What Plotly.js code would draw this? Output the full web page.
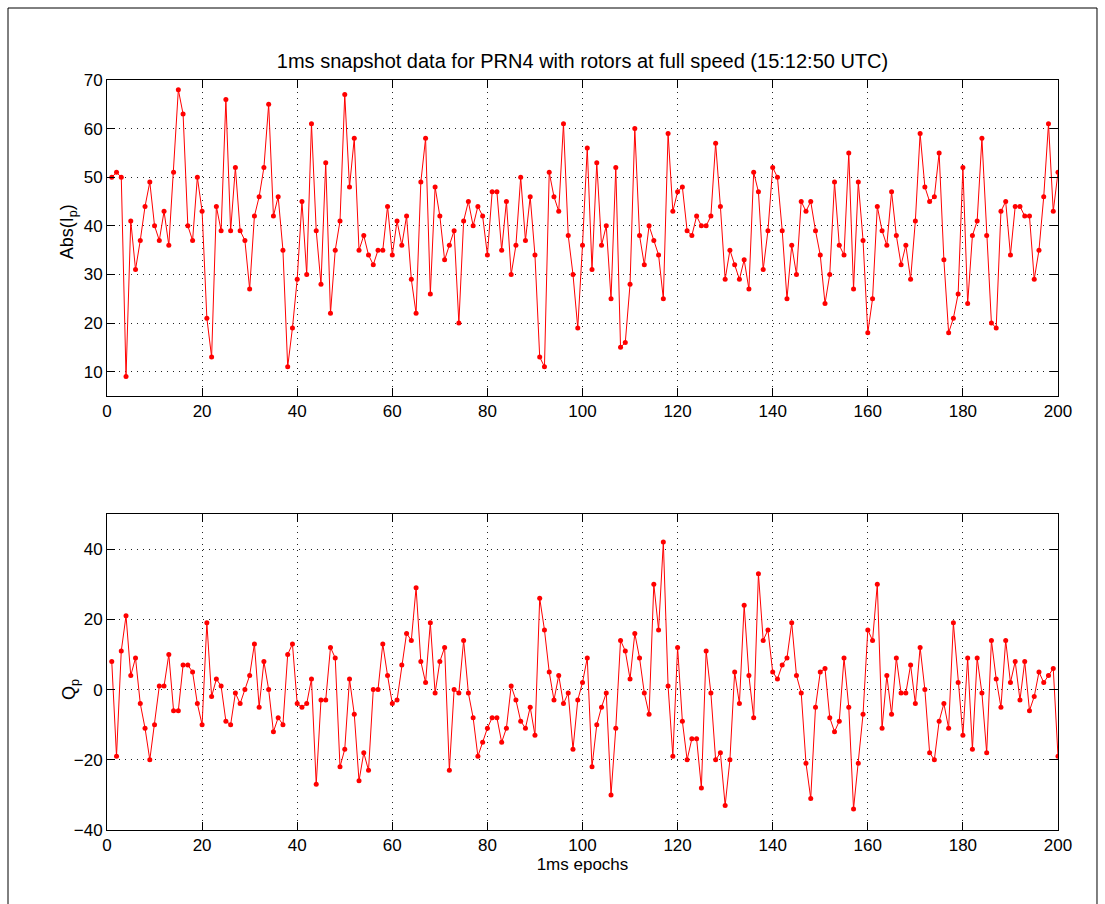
<!DOCTYPE html>
<html>
<head>
<meta charset="utf-8">
<script src="https://cdn.plot.ly/plotly-3.0.1.min.js"></script>
<style>
html,body{margin:0;padding:0;background:#fff;}
#chart{width:1105px;height:904px;}
</style>
</head>
<body>
<div id="chart"></div>
<script>
// Epoch indices 1..200
const epochs = Array.from({length: 200}, (_, i) => i + 1);

// Abs(I_p) values, epochs 1..200
const absIp = [
  50,51,50,9,41,31,37,44,49,40,
  37,43,36,51,68,63,40,37,50,43,
  21,13,44,39,66,39,52,39,37,27,
  42,46,52,65,42,46,35,11,19,29,
  45,30,61,39,28,53,22,35,41,67,
  48,58,35,38,34,32,35,35,44,34,
  41,36,42,29,22,49,58,26,48,42,
  33,36,39,20,41,45,40,44,42,34,
  47,47,35,45,30,36,50,37,46,34,
  13,11,51,46,43,61,38,30,19,36,
  56,31,53,36,40,25,52,15,16,28,
  60,38,32,40,37,34,25,59,43,47,
  48,39,38,42,40,40,42,57,44,29,
  35,32,29,33,27,51,47,31,39,52,
  50,39,25,36,30,45,43,45,39,34,
  24,30,49,36,34,55,27,49,37,18,
  25,44,39,36,47,38,32,36,29,41,
  59,48,45,46,55,33,18,21,26,52,
  24,38,41,58,38,20,19,43,45,34,
  44,44,42,42,29,35,46,61,43,51
];

// Q_p values, epochs 1..200
const qp = [
  8,-19,11,21,4,9,-4,-11,-20,-10,
  1,1,10,-6,-6,7,7,5,-4,-10,
  19,-2,3,1,-9,-10,-1,-4,0,4,
  13,-5,8,0,-12,-8,-10,10,13,-4,
  -5,-4,3,-27,-3,-3,12,9,-22,-17,
  3,-7,-26,-18,-23,0,0,13,4,-4,
  -3,7,16,14,29,8,2,19,-1,8,
  12,-23,0,-1,14,-1,-8,-19,-15,-11,
  -8,-8,-15,-11,1,-3,-9,-11,-5,-13,
  26,17,5,-3,4,-4,-1,-17,-3,2,
  9,-22,-10,-5,-1,-30,-11,14,11,3,
  16,9,-1,-7,30,17,42,1,-19,12,
  -9,-20,-14,-14,-28,11,-1,-20,-18,-33,
  -20,5,-4,24,4,-8,33,14,17,5,
  3,7,9,19,4,-1,-21,-31,-5,5,
  6,-8,-12,-9,9,-5,-34,-21,-7,17,
  14,30,-11,4,-7,9,-1,-1,7,-4,
  12,0,-18,-20,-9,-4,-11,19,2,-13,
  9,-17,9,-1,-18,14,3,-5,14,2,
  8,-3,8,-6,-2,5,2,4,6,-19
];

const xTicks = [0,20,40,60,80,100,120,140,160,180,200];
const topYTicks = [10,20,30,40,50,60,70];
const botYTicks = [-40,-20,0,20,40];

const FONT = 'Liberation Sans, Arial, Helvetica, sans-serif';
const red = '#ff0000';

const lineStyle = {color: red, width: 1};
const markerStyle = {color: red, size: 5};

const traces = [
  {x: epochs, y: absIp, type: 'scatter', mode: 'lines+markers',
   line: lineStyle, marker: markerStyle, xaxis: 'x', yaxis: 'y', showlegend: false},
  {x: epochs, y: qp, type: 'scatter', mode: 'lines+markers',
   line: lineStyle, marker: markerStyle, xaxis: 'x2', yaxis: 'y2', showlegend: false}
];

function axisBase() {
  return {
    showline: true, linecolor: '#000', linewidth: 1, mirror: 'ticks',
    ticks: 'inside', ticklen: 8, tickcolor: '#000', tickwidth: 1,
    showgrid: true, gridcolor: '#222', gridwidth: 1, griddash: '1px,5px',
    zeroline: false,
    tickfont: {family: FONT, size: 17, color: '#000'}
  };
}

const layout = {
  width: 1105, height: 904,
  paper_bgcolor: '#fff', plot_bgcolor: '#fff',
  margin: {l: 107, r: 47, t: 80, b: 74},
  font: {family: FONT, color: '#000'},
  title: {
    text: '1ms snapshot data for PRN4 with rotors at full speed (15:12:50 UTC)',
    font: {family: FONT, size: 20, color: '#000'},
    x: 0.5, xref: 'paper', xanchor: 'center',
    y: 1, yref: 'paper', yanchor: 'bottom', pad: {b: 12}
  },
  xaxis: Object.assign(axisBase(), {
    domain: [0, 1], anchor: 'y', range: [0, 200],
    tickmode: 'array', tickvals: xTicks
  }),
  yaxis: Object.assign(axisBase(), {
    domain: [0.5787, 1], anchor: 'x', range: [5, 70],
    tickmode: 'array', tickvals: topYTicks
  }),
  xaxis2: Object.assign(axisBase(), {
    domain: [0, 1], anchor: 'y2', range: [0, 200],
    tickmode: 'array', tickvals: xTicks,
    title: {text: '1ms epochs', font: {family: FONT, size: 17, color: '#000'}, standoff: 3}
  }),
  yaxis2: Object.assign(axisBase(), {
    domain: [0, 0.4213], anchor: 'x2', range: [-40, 50],
    tickmode: 'array', tickvals: botYTicks
  }),
  annotations: [
    {text: 'Abs(I<sub>p</sub>)', xref: 'paper', yref: 'paper',
     x: -0.041, y: 0.797, textangle: -90, showarrow: false,
     xanchor: 'center', yanchor: 'middle',
     font: {family: FONT, size: 18, color: '#000'}},
    {text: 'Q<sub>p</sub>', xref: 'paper', yref: 'paper',
     x: -0.039, y: 0.188, textangle: -90, showarrow: false,
     xanchor: 'center', yanchor: 'middle',
     font: {family: FONT, size: 18, color: '#000'}}
  ],
  shapes: [
    {type: 'rect', xref: 'paper', yref: 'paper',
     x0: -0.1041, x1: 1.041, y0: -0.2, y1: 1.096,
     line: {color: '#000', width: 1}, fillcolor: 'rgba(0,0,0,0)', layer: 'below'}
  ]
};

Plotly.newPlot('chart', traces, layout, {displayModeBar: false, staticPlot: true});
</script>
</body>
</html>
